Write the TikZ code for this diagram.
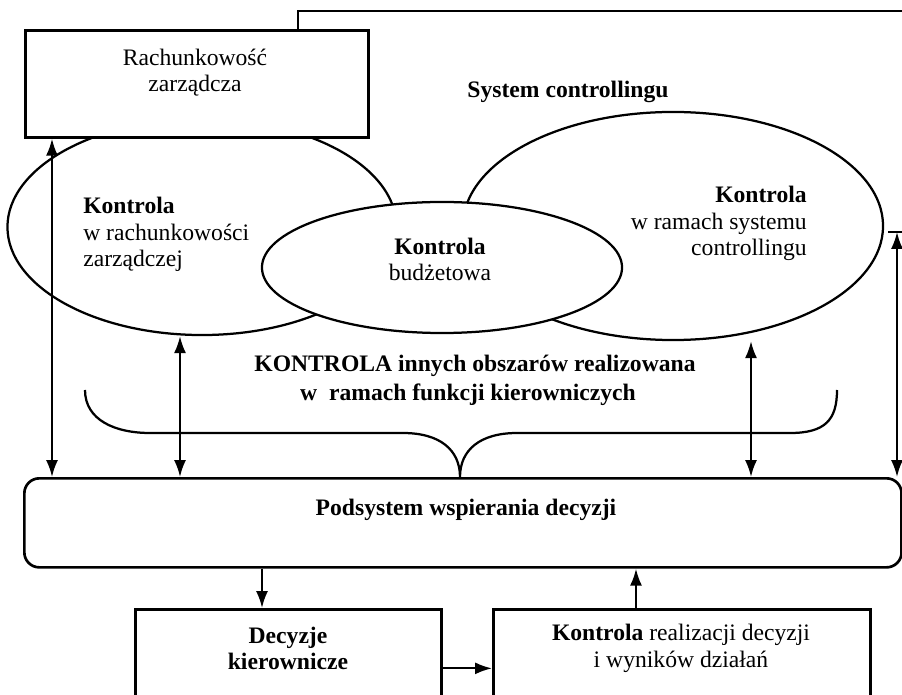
\documentclass[tikz,border=0pt]{standalone}
\usepackage{fontspec}
\setmainfont{Liberation Serif}
\usetikzlibrary{arrows.meta,shapes.geometric}

\begin{document}
\begin{tikzpicture}[x=0.025cm, y=-0.025cm,
  box/.style={draw, line width=1.9pt, fill=white, inner sep=0pt},
  oval/.style={draw, ellipse, line width=1.6pt, fill=white, inner sep=0pt},
  txt/.style={font=\fontsize{16.8}{19}\selectfont, inner sep=0pt},
  arr/.style={line width=1.5pt, -{Latex[length=12pt,width=8.5pt]}},
  darr/.style={line width=1.5pt, {Latex[length=12pt,width=8.5pt]}-{Latex[length=12pt,width=8.5pt]}}]
\useasboundingbox (0,0) rectangle (902,695);
% ellipses of control
\node[oval, minimum width=9.725cm, minimum height=5.4cm] (kr) at (202,227) {};
\node[oval, minimum width=10.5cm, minimum height=5.7cm] (ks) at (673,226) {};
\node[oval, minimum width=9cm, minimum height=3.275cm] (kb) at (442,267.5) {};
% boxes
\node[box, anchor=north west, minimum width=8.575cm, minimum height=2.675cm] (rach) at (24,29) {};
\node[box, anchor=north west, minimum width=21.925cm, minimum height=2.225cm,
  rounded corners=0.375cm] (podsys) at (23,477) {};
\node[box, anchor=north west, minimum width=7.65cm, minimum height=2.95cm] (dec) at (134,608) {};
\node[box, anchor=north west, minimum width=9.425cm, minimum height=2.95cm] (kon) at (492,608) {};
% frame of the system
\coordinate (fr) at (298,11);
\draw[line width=1.9pt] (fr |- rach.north) -- (fr) -- (910,11);
% brace
\draw[line width=1.6pt] (85,390) .. controls (85,420) and (115,433) .. (150,433) -- (403,433)
  .. controls (440,433) and (460,450) .. (460,477)
  .. controls (460,450) and (480,433) .. (517,433) -- (790,433)
  .. controls (825,433) and (837,420) .. (837,390);
% texts
\node[txt, align=center] (racht) at (195,72.5) {Rachunkowość\\zarządcza};
\node[txt, anchor=base] (syst) at (568,98) {\textbf{System controllingu}};
\node[txt, align=left, anchor=west] (krt) at (83,234.5) {\textbf{Kontrola}\\w rachunkowości\\zarządczej};
\node[txt, align=center] (kbt) at (440,259.5) {\textbf{Kontrola}\\budżetowa};
\node[txt, align=right, anchor=east] (kst) at (807,223.5) {\textbf{Kontrola}\\w ramach systemu\\controllingu};
\node[txt, align=center, font=\fontsize{16.8}{20.5}\selectfont\bfseries] (innet) at (475,380)
  {KONTROLA innych obszarów realizowana\\w\ \ ramach funkcji kierowniczych\hspace*{10pt}};
\node[txt, anchor=base] (podsyst) at (466,515) {\textbf{Podsystem wspierania decyzji}};
\node[txt, align=center] (dect) at (288,648.5) {\textbf{Decyzje}\\\textbf{kierownicze}};
\node[txt, align=center] (kont) at (681,648.5) {\textbf{Kontrola} realizacji decyzji\\i wyników działań};
% connectors
\coordinate (a1) at (52,0);
\coordinate (a2) at (180,0);
\coordinate (a3) at (751,0);
\coordinate (a4) at (897,232);
\coordinate (a5) at (262,0);
\coordinate (a6) at (636,0);
\draw[darr] (a1 |- rach.south) -- (a1 |- podsys.north);
\draw[darr] (a2 |- kr.south) -- (a2 |- podsys.north);
\draw[darr] (a3 |- ks.south) -- (a3 |- podsys.north);
\draw[darr] (a4) -- (a4 |- podsys.north);
\draw[line width=1.5pt] (a4) +(-9,0) -- +(9,0);
\draw[arr] (a5 |- podsys.south) -- (a5 |- dec.north);
\draw[arr] (a6 |- kon.north) -- (a6 |- podsys.south);
\draw[arr] (dec.east) -- (kon.west);
\end{tikzpicture}
\end{document}
